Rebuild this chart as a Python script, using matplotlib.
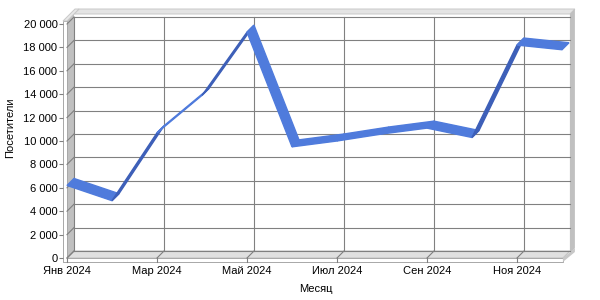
import matplotlib
matplotlib.use('Agg')
import matplotlib.pyplot as plt
from matplotlib.patches import Polygon
from matplotlib.ticker import FuncFormatter

plt.rcParams['font.family'] = ['Liberation Sans', 'DejaVu Sans']
plt.rcParams['font.size'] = 8

months = list(range(12))
visitors = [6200, 4900, 10700, 13900, 19300, 9500, 10000, 10600, 11100, 10300, 18200, 17800]
tick_pos = [0, 2, 4, 6, 8, 10]
tick_labels = ['Янв 2024', 'Мар 2024', 'Май 2024', 'Июл 2024', 'Сен 2024', 'Ноя 2024']
y_ticks = list(range(0, 20001, 2000))

# pixel sizes in data units (45 px per month, 234 px per 20000)
px_x = 1 / 45
px_y = 20000 / 234
dx, dy = 7 * px_x, 7 * px_y      # depth of the chart box
xr = 11.02                       # front right edge
top = 20000 + 3 * px_y           # wall top
grid_c = '#808080'

fig = plt.figure(figsize=(6, 3), dpi=100)
ax = fig.add_axes([50 / 600, 1 - 268 / 300, 535 / 600, 265 / 300])
ax.set_xlim(-17 * px_x, 518 * px_x)
ax.set_ylim(-10 * px_y, 255 * px_y)
for s in ax.spines.values():
    s.set_visible(False)


def poly(pts, fc, ec='none', lw=0.7, z=1):
    ax.add_patch(Polygon(pts, closed=True, facecolor=fc, edgecolor=ec, linewidth=lw, zorder=z))


# back wall slab (top and right side)
tx, ty = 5 * px_x, 5 * px_y
poly([(dx, top + dy), (xr + dx, top + dy), (xr + dx + tx, top + dy + ty), (dx + tx, top + dy + ty)], '#e4e4e4', '#c8c8c8')
poly([(xr + dx, dy - 2 * px_y), (xr + dx, top + dy), (xr + dx + tx, top + dy + ty), (xr + dx + tx, dy + ty - 2 * px_y)], '#c0c0c0')

# floor slab
slab = 4 * px_y
poly([(0, 0), (xr, 0), (xr + dx, dy), (dx, dy)], '#e0e0e0', '#c0c0c0', z=1)
poly([(-4 * px_x, -slab), (xr, -slab), (xr, 0), (-4 * px_x, 0)], 'white', '#a8a8a8', z=1)
poly([(xr, -slab), (xr, 0), (xr + dx + tx, dy + ty - 2 * px_y), (xr + dx + tx, dy + ty - 2 * px_y - slab)], '#c8c8c8', z=1)

# left wall (side + front edge + top)
poly([(0, 0), (dx, dy), (dx, top + dy), (0, top)], '#c0c0c0', z=1)
poly([(-4 * px_x, -slab), (0, -slab), (0, top), (-4 * px_x, top)], 'white', '#a8a8a8', z=1)
poly([(-4 * px_x, top), (0, top), (dx + tx, top + dy + ty), (dx + tx - 4 * px_x, top + dy + ty)], '#e8e8e8', '#c8c8c8', z=1)

# grid lines on back wall, left wall and floor
for v in y_ticks:
    ax.plot([dx, xr + dx], [v + dy, v + dy], color=grid_c, lw=0.8, zorder=2)
    ax.plot([0, dx], [v, v + dy], color=grid_c, lw=0.8, zorder=2)
for p in tick_pos:
    ax.plot([p + dx, p + dx], [dy, 20000 + dy], color=grid_c, lw=0.8, zorder=2)
    ax.plot([p, p + dx], [0, dy], color=grid_c, lw=0.8, zorder=2)
    ax.plot([p, p], [-slab, 0], color=grid_c, lw=0.8, zorder=2)

# 3D ribbon
for i in range(len(months) - 1):
    x0, x1 = months[i], months[i + 1]
    y0, y1 = visitors[i], visitors[i + 1]
    slope = ((y1 - y0) / px_y) / ((x1 - x0) / px_x)
    fc = '#4f7bdc' if slope < 1 else '#3d5fb8'
    poly([(x0, y0), (x1, y1), (x1 + dx, y1 + dy), (x0 + dx, y0 + dy)], fc, fc, lw=1.0, z=3)

# axes ticks
ax.spines['left'].set_position(('data', -4 * px_x))
ax.spines['bottom'].set_position(('data', -slab))
ax.set_yticks(y_ticks)
ax.yaxis.set_major_formatter(FuncFormatter(lambda v, p: format(int(v), ',').replace(',', ' ')))
ax.set_xticks(tick_pos)
ax.set_xticklabels(tick_labels)
ax.tick_params(axis='y', length=3, color=grid_c, pad=1, labelsize=8)
ax.tick_params(axis='x', length=0, pad=3, labelsize=8)

fig.text(10 / 600, 1 - 128 / 300, 'Посетители', rotation=90, ha='center', va='center', fontsize=8)
fig.text(316 / 600, 1 - 289 / 300, 'Месяц', ha='center', va='center', fontsize=8)

fig.savefig('out.png', dpi=100)
